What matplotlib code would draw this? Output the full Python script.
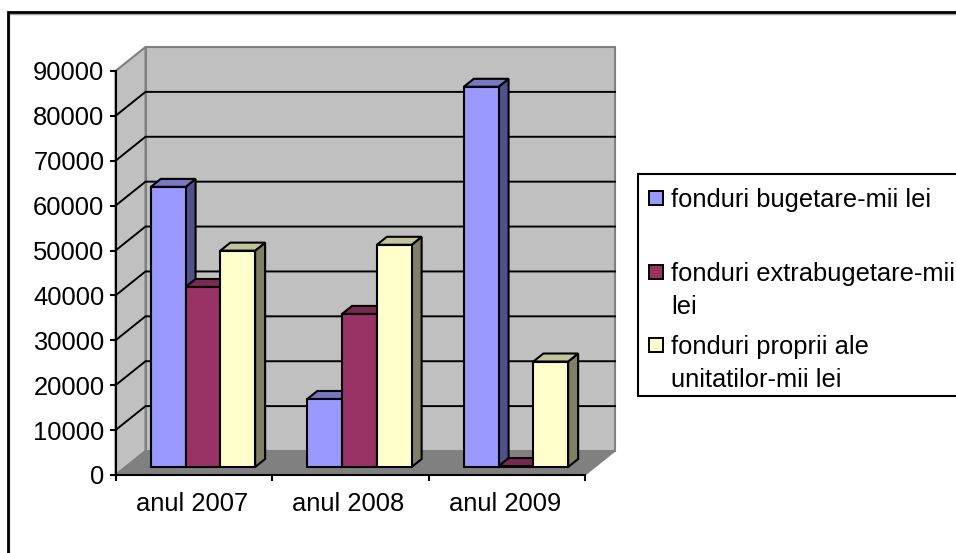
import matplotlib
matplotlib.use('Agg')
import matplotlib.pyplot as plt
from matplotlib.lines import Line2D
from matplotlib.patches import Polygon, Rectangle
import numpy as np

plt.rcParams['font.family'] = ['Liberation Sans', 'DejaVu Sans']

categories = ['anul 2007', 'anul 2008', 'anul 2009']
fonduri_bugetare = [62400, 15150, 84700]
fonduri_extrabugetare = [40100, 34100, 200]
fonduri_proprii = [48200, 49500, 23500]
y_ticks = [0, 10000, 20000, 30000, 40000, 50000, 60000, 70000, 80000, 90000]

series_names = ['fonduri bugetare-mii lei', 'fonduri extrabugetare-mii\nlei',
                'fonduri proprii ale\nunitatilor-mii lei']
front_colors = ['#9999FF', '#993366', '#FFFFCC']
top_colors = ['#7777C4', '#7A2952', '#C4C49C']
side_colors = ['#50508A', '#5C1F3D', '#808066']

W, H = 956, 553
FS = 18.4

fig = plt.figure(figsize=(W / 100, H / 100), dpi=100)
ax = fig.add_axes([115.5 / W, 1 - 475 / H, (585 - 115.5) / W, (475 - 71) / H])
ax.set_xlim(0, 3)
ax.set_ylim(0, 90000)

# size of the fake 3d depth, in data units
depth_x = 30 / (469.5 / 3)
depth_y = 24 / (404 / 90000)


def project(x, y, d):
    # d = 0 is the front plane, d = 1 the back wall
    return (x + d * depth_x, y + d * depth_y)


def face(points, color, edge='black', lw=1.5, z=3):
    ax.add_patch(Polygon(points, closed=True, facecolor=color, edgecolor=edge,
                         linewidth=lw, joinstyle='miter', clip_on=False, zorder=z))


# walls and floor
face([project(0, 0, 1), project(3, 0, 1), project(3, 90000, 1), project(0, 90000, 1)],
     '#C0C0C0', '#808080', 1.5, 1)
face([project(0, 0, 0), project(0, 0, 1), project(0, 90000, 1), project(0, 90000, 0)],
     '#C0C0C0', '#808080', 1.5, 1)
face([project(0, 0, 0), project(3, 0, 0), project(3, 0, 1), project(0, 0, 1)],
     '#808080', '#808080', 1.0, 1.2)

# gridlines run along the side wall and then across the back wall
for t in y_ticks[1:-1]:
    pts = [project(0, t, 0), project(0, t, 1), project(3, t, 1)]
    ax.plot([p[0] for p in pts], [p[1] for p in pts], color='black', lw=1.4,
            clip_on=False, zorder=1.5, solid_joinstyle='miter')

# bars
bar_w = 2 / 9
d0, d1 = 1 / 3, 2 / 3
all_series = [fonduri_bugetare, fonduri_extrabugetare, fonduri_proprii]
for c in range(len(categories)):
    for s, values in enumerate(all_series):
        x0 = c + 1 / 6 + s * bar_w - 0.005
        x1 = x0 + bar_w
        v = values[c]
        z = 3 + c + s * 0.1
        face([project(x1, 0, d0), project(x1, 0, d1), project(x1, v, d1), project(x1, v, d0)],
             side_colors[s], z=z)
        face([project(x0, v, d0), project(x1, v, d0), project(x1, v, d1), project(x0, v, d1)],
             top_colors[s], z=z)
        face([project(x0, 0, d0), project(x1, 0, d0), project(x1, v, d0), project(x0, v, d0)],
             front_colors[s], z=z)

# axes
for name in ['top', 'right']:
    ax.spines[name].set_visible(False)
for name in ['left', 'bottom']:
    ax.spines[name].set_linewidth(1.5)
    ax.spines[name].set_zorder(2)
ax.patch.set_visible(False)
ax.set_yticks(y_ticks)
ax.tick_params(axis='y', labelsize=FS, length=4, width=1.5, pad=4)
ax.set_xticks(np.arange(4))
ax.set_xticklabels([])
ax.tick_params(axis='x', length=4, width=1.5)
ax.set_xticks(np.arange(3) + 0.5 - 0.013, minor=True)
ax.set_xticklabels(categories, minor=True, fontsize=FS)
ax.tick_params(axis='x', which='minor', length=0, pad=12)


def px_line(xs, ys, color='black', lw=2.0):
    fig.add_artist(Line2D([x / W for x in xs], [1 - y / H for y in ys], color=color, lw=lw,
                          solid_capstyle='butt', solid_joinstyle='miter'))


# outer chart frame, only top and left edges are in the picture
px_line([9.3, 9.3], [H, 14], '#A0A0A0', 1.0)
px_line([8.5, W], [14, 14], '#A0A0A0', 1.0)
px_line([8, 8, W], [H, 12, 12])

# legend box
px_line([W, 638, 638, W], [174, 174, 396, 396], lw=1.5)
legend_y = [198, 272, 345]
for name, col, y in zip(series_names, front_colors, legend_y):
    fig.add_artist(Rectangle((648.5 / W, 1 - (y + 7) / H), 14 / W, 14 / H, transform=fig.transFigure,
                             facecolor=col, edgecolor='black', linewidth=1.4))
    fig.text(671 / W, 1 - (y - 10) / H, name, fontsize=FS, va='top', ha='left', linespacing=1.47)

fig.savefig('out.png', dpi=100)
